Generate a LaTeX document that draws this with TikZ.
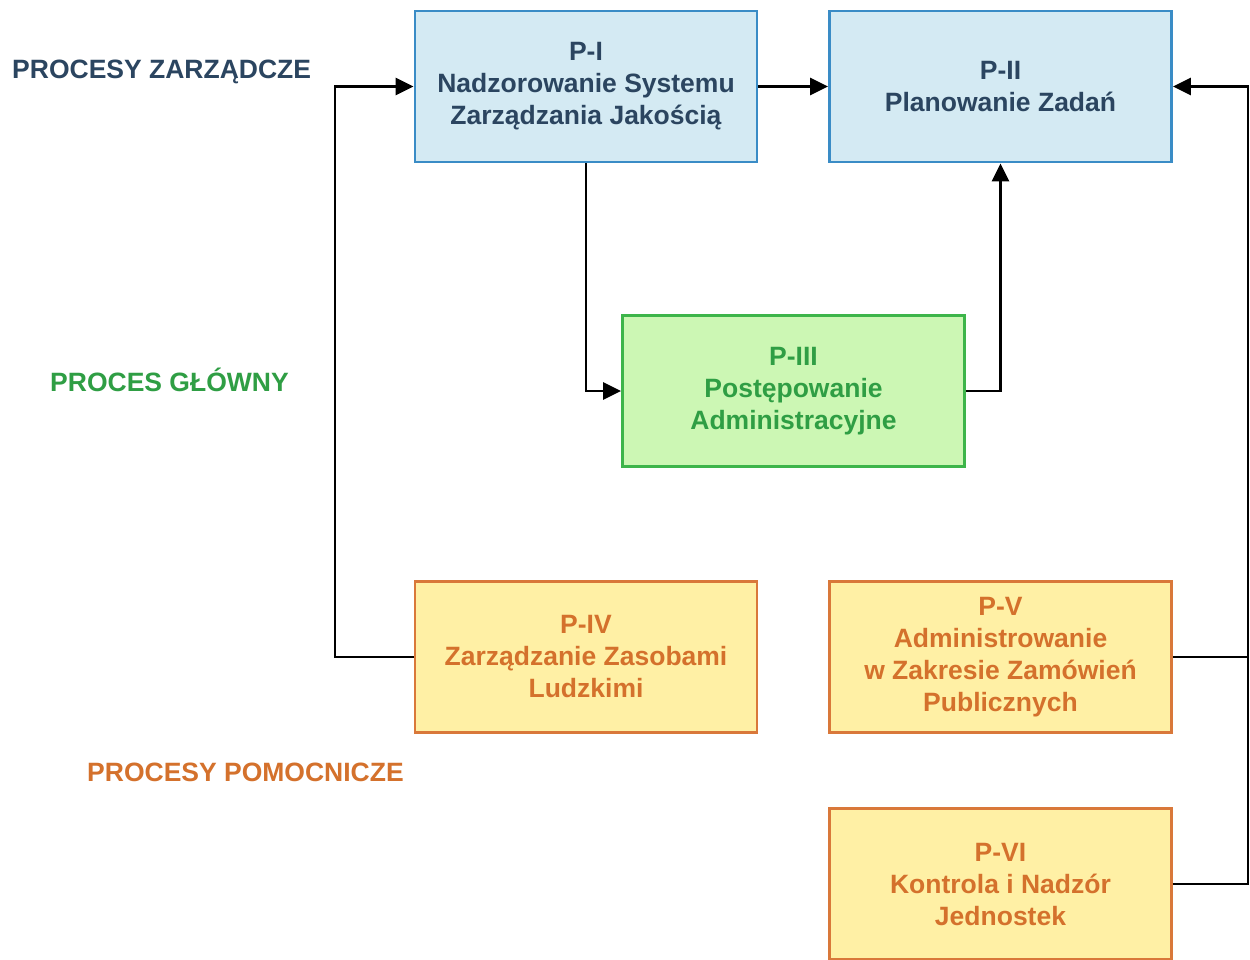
\documentclass[tikz,border=0pt]{standalone}
\usepackage{fontspec}
\setmainfont{Liberation Sans}
\usetikzlibrary{arrows.meta}
\definecolor{bfill}{HTML}{D4EAF3}
\definecolor{bdraw}{HTML}{3A8CC6}
\definecolor{btext}{HTML}{2B4560}
\definecolor{gfill}{HTML}{CCF7B4}
\definecolor{gdraw}{HTML}{3DB54A}
\definecolor{gtext}{HTML}{2F9E44}
\definecolor{yfill}{HTML}{FFF0A5}
\definecolor{ydraw}{HTML}{D9783A}
\definecolor{ytext}{HTML}{D4712C}
\tikzset{
  proc/.style={rectangle, line width=2.8pt, minimum width=342pt, minimum height=151pt,
    align=center, inner sep=0pt, font=\fontsize{26.5}{32}\selectfont\bfseries},
  blue/.style={proc, draw=bdraw, fill=bfill, text=btext},
  green/.style={proc, draw=gdraw, fill=gfill, text=gtext},
  yellow/.style={proc, draw=ydraw, fill=yfill, text=ytext},
  grp/.style={anchor=west, inner sep=0pt, font=\fontsize{26.5}{30}\selectfont\bfseries},
  arr/.style={line width=2.6pt, -{Triangle[length=18pt,width=17pt]}},
  ln/.style={line width=2.6pt}
}
\begin{document}
\begin{tikzpicture}[x=1pt,y=-1pt]
\useasboundingbox (0,0) rectangle (1250,959);
\fill[white] (0,0) rectangle (1250,959);
\coordinate (lx) at (335,0);
\coordinate (rx) at (1248,0);
\node[blue] (p1) at (586,86.5) {P-I\\Nadzorowanie Systemu\\Zarządzania Jakością};
\node[blue] (p2) at (1000.5,86.5) {P-II\\Planowanie Zadań};
\node[green] (p3) at (793.5,391) {P-III\\Postępowanie\\Administracyjne};
\node[yellow] (p4) at (586,657) {P-IV\\Zarządzanie Zasobami\\Ludzkimi};
\node[yellow] (p5) at (1000.5,657) {P-V\\Administrowanie\\w Zakresie Zamówień\\Publicznych};
\node[yellow] (p6) at (1000.5,884) {P-VI\\Kontrola i Nadzór\\Jednostek};
\node[grp, text=btext] (l1) at (12,72) {PROCESY ZARZĄDCZE};
\node[grp, text=gtext] (l2) at (50,380) {PROCES GŁÓWNY};
\node[grp, text=ytext] (l3) at (87,772) {PROCESY POMOCNICZE};
\draw[arr] (p1.east) -- (p2.west);
\draw[arr] (p1.south) |- (p3.west);
\draw[arr] (p3.east) -| (p2.south);
\draw[arr] (p4.west) -- (p4.west -| lx) |- (p1.west);
\draw[arr] (p5.east) -- (p5.east -| rx) |- (p2.east);
\draw[ln] (p6.east) -- (p6.east -| rx) -- (p5.east -| rx);
\end{tikzpicture}
\end{document}
